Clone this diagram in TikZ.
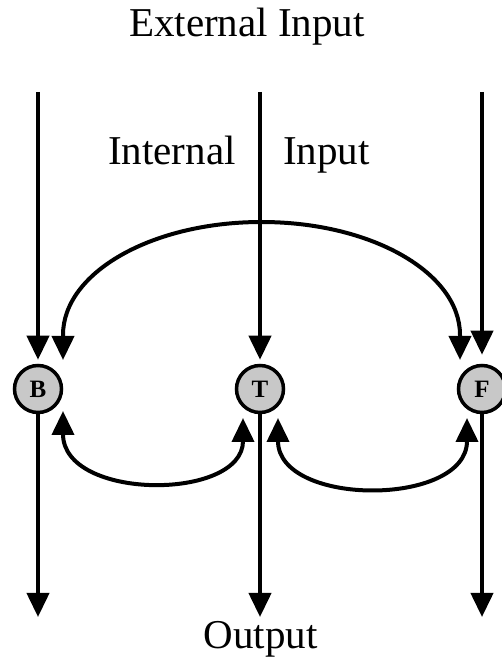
\documentclass[tikz,border=0pt]{standalone}
\usepackage{fontspec}
\setmainfont{Liberation Serif}
\usetikzlibrary{arrows.meta,calc}
\definecolor{unitgray}{RGB}{200,200,200}
\begin{document}
\begin{tikzpicture}[x=1pt,y=1pt,
  conn/.style={line width=4pt,-{Triangle[length=24pt,width=22pt]}},
  bconn/.style={line width=4pt,{Triangle[length=24pt,width=22pt]}-{Triangle[length=24pt,width=22pt]}},
  unit/.style={circle,draw,line width=3.5pt,fill=unitgray,minimum size=47pt,inner sep=0pt,font=\fontsize{25}{27}\selectfont\bfseries},
  lbl/.style={font=\fontsize{41}{48}\selectfont,inner sep=0pt,anchor=base}]
\useasboundingbox (0,0) rectangle (502,659);
% units
\node[unit] (B) at (38,270) {B};
\node[unit] (T) at (260,270) {T};
\node[unit] (F) at (482,270) {F};
% labels
\node[lbl] (ext) at (247,622) {External Input};
\node[lbl,anchor=base west] (int) at (108,494) {Internal};
\node[lbl,anchor=base west] (inp) at (283,494) {Input};
\node[lbl] (out) at (260.5,10) {Output};
% free ends
\coordinate (Bin) at (38,567);
\coordinate (Tin) at (260,567);
\coordinate (Fin) at (482,567);
\coordinate (Bout) at (38,42);
\coordinate (Tout) at (260,42);
\coordinate (Fout) at (482,42);
% external inputs
\draw[conn,shorten >=4pt] (Bin) -- (B.north);
\draw[conn,shorten >=4pt] (Tin) -- (T.north);
\draw[conn,shorten >=9pt] (Fin) -- (F.north);
% outputs
\draw[conn] (B.south) -- (Bout);
\draw[conn] (T.south) -- (Tout);
\draw[conn] (F.south) -- (Fout);
% internal connections
\draw[bconn] ($(B)+(25,29)$) -- ++(0,25)
  arc[start angle=180,end angle=0,x radius=198.5,y radius=113]
  -- ($(F)+(-22,29)$);
\draw[bconn] ($(B)+(25,-22)$) .. controls ($(B)+(25,-112)$) and ($(T)+(-17,-112)$) .. ($(T)+(-17,-29)$);
\draw[bconn] ($(T)+(18,-29)$) .. controls ($(T)+(18,-118)$) and ($(F)+(-15,-118)$) .. ($(F)+(-15,-29)$);
\end{tikzpicture}
\end{document}
